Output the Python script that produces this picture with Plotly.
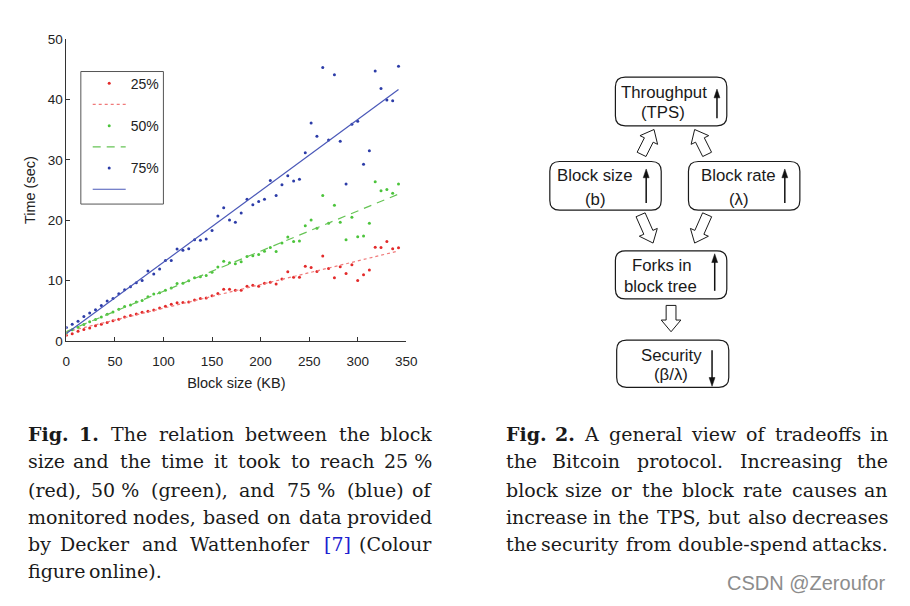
import numpy as np
import plotly.graph_objects as go

# ---------------- data ----------------
block_kb = [0, 6, 12, 18, 24, 30, 36, 42, 48, 54, 60, 66, 72, 78, 84, 90, 96, 102, 108, 114,
            120, 126, 132, 138, 144, 150, 156, 162, 168, 174, 180, 186, 192, 198, 204, 210, 216, 222, 228, 234,
            240, 246, 252, 258, 264, 270, 276, 282, 288, 294, 300, 306, 312, 318, 324, 330, 336, 342]
t25 = [1.0, 1.25, 1.65, 1.95, 2.2, 2.55, 2.8, 3.1, 3.4, 3.65, 4.0, 4.25, 4.5, 4.8, 4.95, 5.15, 5.5, 5.8, 6.1, 6.35,
       6.4, 6.5, 6.8, 7.05, 7.15, 7.5, 7.9, 8.6, 8.6, 8.45, 8.45, 9.1, 9.25, 9.1, 9.6, 9.75, 9.45, 10.3, 11.5, 10.6,
       10.6, 12.4, 12.2, 11.55, 14.1, 12.05, 10.5, 12.3, 11.2, 12.65, 10.05, 11.0, 11.8, 15.55, 15.5, 16.5, 15.3, 15.45]
t50 = [1.4, 1.9, 2.3, 2.75, 3.2, 3.6, 4.0, 4.45, 4.85, 5.3, 5.75, 6.0, 6.5, 6.75, 7.35, 7.8, 8.0, 8.45, 8.8,
       9.55, 9.57, 10.0, 10.5, 10.65, 10.87, 11.4, 12.26, 13.23, 12.97, 12.8, 13.13, 14.03, 14.15, 14.36, 14.9, 15.5, 14.85, 16.25, 17.26, 16.5,
       16.6, 19.1, 20.06, 18.7, 24.1, 19.5, 22.5, 19.7, 16.8, 20.5, 17.3, 17.4, 19.5, 26.4, 24.9, 25.1, 24.5, 26.0]
t75 = [2.26, 2.8, 3.28, 4.09, 4.68, 5.22, 5.92, 6.67, 7.05, 7.85, 8.5, 9.03, 9.68, 10.06, 11.6, 11.13, 11.94, 13.34, 13.34,
       15.27, 15.05, 15.3, 16.8, 16.7, 16.9, 18.3, 20.7, 22.1, 20.06, 19.7, 21.2, 23.5, 22.6, 23.1, 23.5, 26.6, 24.1, 25.9, 27.4, 26.5,
       26.8, 31.2, 36.1, 33.9, 45.3, 33.3, 44.1, 33.1, 26.0, 35.9, 36.4, 29.3, 31.5, 44.7, 41.8, 39.9, 39.8, 45.5]
series_names = ["25%", "50%", "75%"]
x_ticks = [0, 50, 100, 150, 200, 250, 300, 350]
y_ticks = [0, 10, 20, 30, 40, 50]

node_titles = ["Throughput", "Block size", "Block rate", "Forks in", "Security"]
node_subtitles = ["(TPS)", "(b)", "(λ)", "block tree", "(β/λ)"]

NB = "\u00a0"
caption_left = [
    "Fig. 1. The relation between the block",
    f"size and the time it took to reach 25{NB}%",
    f"(red), 50{NB}% (green), and 75{NB}% (blue) of",
    "monitored nodes, based on data provided",
    "by Decker and Wattenhofer [7] (Colour",
    "figure online).",
]
caption_right = [
    "Fig. 2. A general view of tradeoffs in",
    "the Bitcoin protocol. Increasing the",
    "block size or the block rate causes an",
    "increase in the TPS, but also decreases",
    "the security from double-spend attacks.",
]
bold_tokens = {"Fig.", "1.", "2."}
link_tokens = {"[7]"}
watermark = "CSDN @Zeroufor"

# ---------------- geometry (page pixels; the page body keeps its default 8px margin) ----------------
PAGE_W, PAGE_H = 910, 606
OFF = 8
FW, FH = PAGE_W - 2 * OFF, PAGE_H - 2 * OFF


def fx(X):
    return (X - OFF) / FW


def fy(Y):
    return 1 - (Y - OFF) / FH


dot_colors = ["#e32a2a", "#4cc43c", "#2c3ca8"]
line_colors = ["#f07a7a", "#66c455", "#4a58b8"]
line_dashes = ["dot", "8px,6px", "solid"]
SANS = "Liberation Sans, Arial, sans-serif"
SERIF = "DejaVu Serif, serif"

fig = go.Figure()
for name, vals, dc, lc, dash in zip(series_names, [t25, t50, t75], dot_colors, line_colors, line_dashes):
    fig.add_trace(go.Scatter(x=block_kb, y=vals, mode="markers", name=name,
                             marker=dict(size=3, color=dc), hoverinfo="skip"))
    slope, icpt = np.polyfit(block_kb, vals, 1)
    xs = [block_kb[0], block_kb[-1]]
    fig.add_trace(go.Scatter(x=xs, y=[icpt + slope * x for x in xs], mode="lines", name=" ",
                             line=dict(color=lc, width=1.2, dash=dash), hoverinfo="skip"))

# overlay page-pixel axes for the diagram and captions
fig.add_trace(go.Scatter(x=[], y=[], xaxis="x2", yaxis="y2", showlegend=False))

shapes = []
annotations = []

# legend frame
shapes.append(dict(type="rect", x0=78, x1=162, y0=66, y1=202, xref="x2", yref="y2",
                   line=dict(color="#555", width=1), layer="below"))

# rounded boxes
boxes = [(621.7, 71.7, 735, 121.7), (555, 158.3, 668.3, 208.3), (696, 158.3, 809.3, 208.3),
         (621.7, 250, 735, 299.3), (623, 341.7, 737, 390)]
r = 10
for (x0, y0, x1, y1) in boxes:
    p = (f"M{x0+r},{y0} L{x1-r},{y0} Q{x1},{y0} {x1},{y0+r} L{x1},{y1-r} Q{x1},{y1} {x1-r},{y1} "
         f"L{x0+r},{y1} Q{x0},{y1} {x0},{y1-r} L{x0},{y0+r} Q{x0},{y0} {x0+r},{y0} Z")
    shapes.append(dict(type="path", path=p, xref="x2", yref="y2", line=dict(color="#1a1a1a", width=1.2),
                       fillcolor="rgba(0,0,0,0)"))

title_pos = [(671, 88), (601, 173), (747, 173), (669, 265), (679, 357)]
sub_pos = [(670, 108), (601, 197), (747, 197), (668, 287), (678, 377)]
for t, (x, y) in zip(node_titles, title_pos):
    annotations.append(dict(text=t, x=x, y=y, xref="x2", yref="y2", showarrow=False,
                            font=dict(family=SANS, size=16.8, color="#1a1a1a")))
for t, (x, y) in zip(node_subtitles, sub_pos):
    annotations.append(dict(text=t, x=x, y=y, xref="x2", yref="y2", showarrow=False,
                            font=dict(family=SANS, size=16.8, color="#1a1a1a")))

# thin arrows inside boxes (x, tail_y, tip_y)
thin = [(725, 114, 84), (653, 201, 166), (794, 201, 166), (722.7, 291, 253), (720, 352, 389)]
for x, ya, yb in thin:
    s = 1 if yb > ya else -1
    shapes.append(dict(type="line", x0=x, x1=x, y0=ya, y1=yb - s * 6, xref="x2", yref="y2",
                       line=dict(color="#111", width=1.5)))
    shapes.append(dict(type="path", path=f"M{x-3},{yb - s*9} L{x+3},{yb - s*9} L{x},{yb} Z",
                       xref="x2", yref="y2", fillcolor="#111", line=dict(color="#111", width=0.5)))


# hollow block arrows (tail, tip)
def block_arrow(x0, y0, x1, y1, w1=5, w2=10, hl=12):
    dx, dy = x1 - x0, y1 - y0
    L = (dx * dx + dy * dy) ** 0.5
    ux, uy = dx / L, dy / L
    nx, ny = -uy, ux
    bx, by = x1 - ux * hl, y1 - uy * hl
    pts = [(x0 + nx * w1, y0 + ny * w1), (bx + nx * w1, by + ny * w1), (bx + nx * w2, by + ny * w2),
           (x1, y1), (bx - nx * w2, by - ny * w2), (bx - nx * w1, by - ny * w1), (x0 - nx * w1, y0 - ny * w1)]
    return "M" + " L".join(f"{a:.1f},{b:.1f}" for a, b in pts) + " Z"


blocks = [(648.3, 151, 661, 125.5), (715, 151, 702.3, 125.5), (647.3, 213, 660, 242),
          (715, 213, 702.3, 242), (678.3, 306, 678.3, 333)]
for b in blocks:
    shapes.append(dict(type="path", path=block_arrow(*b), xref="x2", yref="y2",
                       fillcolor="white", line=dict(color="#1a1a1a", width=1)))

# ---------------- justified captions ----------------
GLYPH_W = {
    'a': .596, 'b': .640, 'c': .560, 'd': .640, 'e': .592, 'f': .370, 'g': .640, 'h': .644, 'i': .320,
    'j': .310, 'k': .606, 'l': .320, 'm': .948, 'n': .644, 'o': .602, 'p': .640, 'q': .640, 'r': .478,
    's': .513, 't': .402, 'u': .644, 'v': .565, 'w': .856, 'x': .564, 'y': .565, 'z': .527,
    'A': .722, 'B': .735, 'C': .720, 'D': .802, 'F': .694, 'I': .395, 'P': .675, 'S': .685, 'T': .667,
    'W': 1.103, '.': .318, ',': .318, '(': .390, ')': .390, '[': .390, ']': .390, '%': .950, '-': .338,
    ' ': .318, NB: .318,
}
CAP_SIZE = 19.0
WIDTH_CORR = 1.015


def token_width(tok, size):
    w = sum(GLYPH_W.get(c, .636) for c in tok) * size * WIDTH_CORR
    return w * 1.1 if tok in bold_tokens else w


def token_text(tok):
    if tok in bold_tokens:
        return f"<b>{tok}</b>"
    if tok in link_tokens:
        return f"<span style='color:#2020d0'>{tok}</span>"
    return tok


def add_caption(lines, left, right, ys, justify_last):
    for i, (line, y) in enumerate(zip(lines, ys)):
        toks = line.split(" ")
        widths = [token_width(t, CAP_SIZE) for t in toks]
        plain = (i == len(lines) - 1) and not justify_last
        if plain:
            gap = GLYPH_W[' '] * CAP_SIZE
        else:
            gap = (right - left - sum(widths)) / (len(toks) - 1)
        x = left
        for j, (t, w) in enumerate(zip(toks, widths)):
            if j == 0:
                xa, xpos = "left", x
            elif j == len(toks) - 1 and not plain:
                xa, xpos = "right", right
            else:
                xa, xpos = "center", x + w / 2
            annotations.append(dict(text=token_text(t), x=xpos, y=y, xref="x2", yref="y2", showarrow=False,
                                    xanchor=xa, yanchor="middle",
                                    font=dict(family=SERIF, size=CAP_SIZE, color="#1a1a1a")))
            x += w + gap


cap_y = [438, 466, 495, 523, 551, 579]
add_caption(caption_left, 22, 437, cap_y, justify_last=False)
add_caption(caption_right, 508, 901, cap_y, justify_last=True)

annotations.append(dict(text=watermark, x=898, y=591, xref="x2", yref="y2", showarrow=False, xanchor="right",
                        yanchor="middle", font=dict(family=SANS, size=20, color="#8c8c8c")))

axis_common = dict(ticks="inside", ticklen=4, tickcolor="#333", showline=True, linecolor="#333",
                   linewidth=1, showgrid=False, zeroline=False,
                   tickfont=dict(family=SANS, size=13.5, color="#222"))

fig.update_layout(
    width=FW, height=FH, autosize=False,
    margin=dict(l=0, r=0, t=0, b=0, pad=0),
    paper_bgcolor="white", plot_bgcolor="rgba(0,0,0,0)",
    showlegend=True,
    legend=dict(x=fx(85), y=fy(62), xanchor="left", yanchor="top", borderwidth=0,
                bgcolor="rgba(0,0,0,0)", font=dict(family=SANS, size=14, color="#222"),
                tracegroupgap=0, itemwidth=33),
    xaxis=dict(domain=[fx(63.3), fx(409)], range=[0, 350], tickvals=x_ticks, ticklabelstandoff=8,
               title=dict(text="Block size (KB)", font=dict(family=SANS, size=14.5, color="#222"), standoff=9),
               **axis_common),
    yaxis=dict(domain=[fy(342.7), fy(32.7)], range=[0, 50], tickvals=y_ticks,
               title=dict(text="Time (sec)", font=dict(family=SANS, size=14.5, color="#222"), standoff=8),
               **axis_common),
    xaxis2=dict(domain=[0, 1], range=[OFF, OFF + FW], visible=False, anchor="y2", fixedrange=True),
    yaxis2=dict(domain=[0, 1], range=[OFF + FH, OFF], visible=False, anchor="x2", fixedrange=True),
    shapes=shapes,
    annotations=annotations,
)

fig.write_html("out.html", config={"displayModeBar": False})
